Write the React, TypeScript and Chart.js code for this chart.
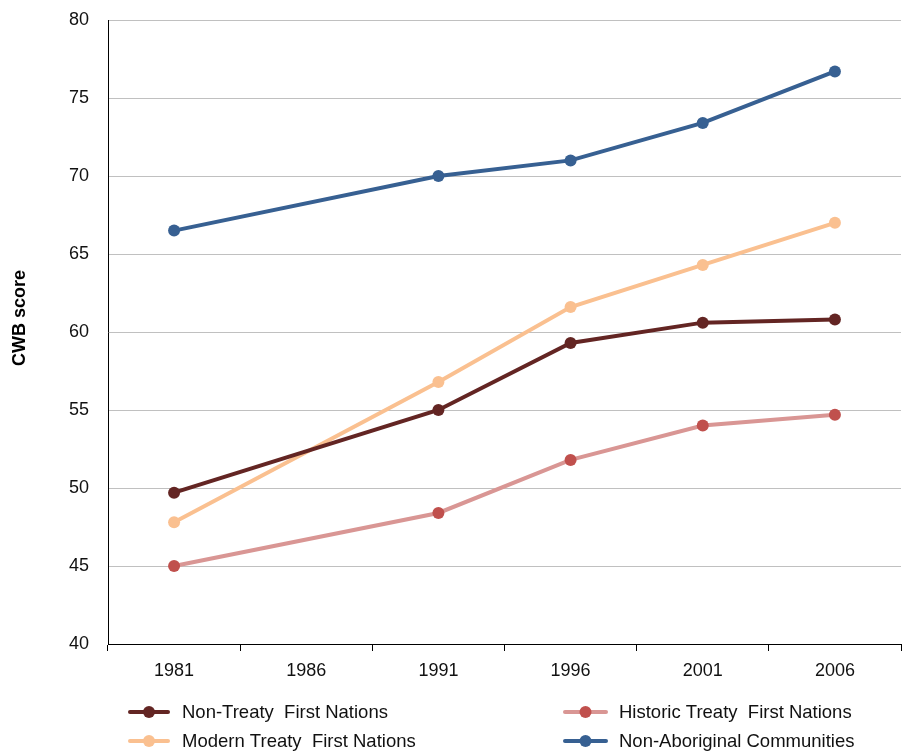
import React, { useEffect, useRef } from "react";
import { Chart, registerables } from "chart.js";

Chart.register(...registerables);

const years = ["1981", "1986", "1991", "1996", "2001", "2006"];
const nonTreaty = [49.7, null, 55.0, 59.3, 60.6, 60.8];
const modernTreaty = [47.8, null, 56.8, 61.6, 64.3, 67.0];
const historicTreaty = [45.0, null, 48.4, 51.8, 54.0, 54.7];
const nonAboriginal = [66.5, null, 70.0, 71.0, 73.4, 76.7];

const seriesLabels = [
  "Non-Treaty  First Nations",
  "Modern Treaty  First Nations",
  "Historic Treaty  First Nations",
  "Non-Aboriginal Communities",
];
const yTitle = "CWB score";
const lineColors = ["#632523", "#FAC090", "#D99694", "#376092"];
const pointColors = ["#632523", "#FAC090", "#C0504D", "#376092"];

const FONT = "'Liberation Sans', Arial, sans-serif";

const legendPlugin = {
  id: "customLegend",
  afterDraw(chart: any) {
    const ctx = chart.ctx;
    const slots = [
      { x0: 130, x1: 168, tx: 182, y: 712 },
      { x0: 130, x1: 168, tx: 182, y: 741 },
      { x0: 565, x1: 606, tx: 619, y: 712 },
      { x0: 565, x1: 606, tx: 619, y: 741 },
    ];
    ctx.save();
    chart.data.datasets.forEach((ds: any, i: number) => {
      const s = slots[i];
      ctx.strokeStyle = ds.borderColor;
      ctx.lineWidth = 4;
      ctx.lineCap = "round";
      ctx.beginPath();
      ctx.moveTo(s.x0, s.y);
      ctx.lineTo(s.x1, s.y);
      ctx.stroke();
      ctx.fillStyle = ds.pointBackgroundColor;
      ctx.beginPath();
      ctx.arc((s.x0 + s.x1) / 2, s.y, 6, 0, Math.PI * 2);
      ctx.fill();
      ctx.fillStyle = "#111";
      ctx.font = `18.5px ${FONT}`;
      ctx.textBaseline = "middle";
      ctx.textAlign = "left";
      ctx.fillText(ds.label, s.tx, s.y + 1);
    });
    // y axis title
    ctx.translate(20, 318);
    ctx.rotate(-Math.PI / 2);
    ctx.fillStyle = "#000";
    ctx.font = `bold 18px ${FONT}`;
    ctx.textAlign = "center";
    ctx.textBaseline = "middle";
    ctx.fillText(yTitle, 0, 0);
    ctx.restore();
  },
};

export default function App() {
  const ref = useRef<HTMLCanvasElement>(null);
  useEffect(() => {
    if (!ref.current) return;
    const all = [nonTreaty, modernTreaty, historicTreaty, nonAboriginal];
    const chart = new Chart(ref.current, {
      type: "line",
      data: {
        labels: years,
        datasets: all.map((d, i) => ({
          label: seriesLabels[i],
          data: d,
          borderColor: lineColors[i],
          backgroundColor: pointColors[i],
          pointBackgroundColor: pointColors[i],
          pointBorderColor: pointColors[i],
          borderWidth: 4,
          pointRadius: 6,
          pointBorderWidth: 0,
          spanGaps: true,
          tension: 0,
        })),
      },
      options: {
        responsive: false,
        animation: false,
        layout: { autoPadding: false, padding: { left: 0, right: 3, top: 20, bottom: 67 } },
        plugins: { legend: { display: false }, tooltip: { enabled: false } },
        scales: {
          x: {
            offset: true,
            grid: {
              offset: true,
              drawOnChartArea: false,
              drawTicks: true,
              tickLength: 7,
              color: "#000",
            },
            border: { color: "#000", width: 1 },
            ticks: { color: "#111", font: { family: FONT, size: 18 }, padding: 9 },
            afterFit: (s: any) => {
              s.height = 40;
              s.paddingLeft = 0;
              s.paddingRight = 0;
            },
          },
          y: {
            min: 40,
            max: 80,
            ticks: { stepSize: 5, color: "#111", font: { family: FONT, size: 18 }, padding: 19 },
            grid: { color: "#C0C0C0", drawTicks: false },
            border: { color: "#000", width: 1 },
            afterFit: (s: any) => {
              s.width = 108;
              s.paddingTop = 0;
              s.paddingBottom = 0;
            },
          },
        },
      },
      plugins: [legendPlugin],
    } as any);
    return () => chart.destroy();
  }, []);
  return (
    <div style={{ position: "absolute", left: 0, top: 0, width: 904, height: 751 }}>
      <canvas ref={ref} width={904} height={751} style={{ display: "block" }} />
    </div>
  );
}
